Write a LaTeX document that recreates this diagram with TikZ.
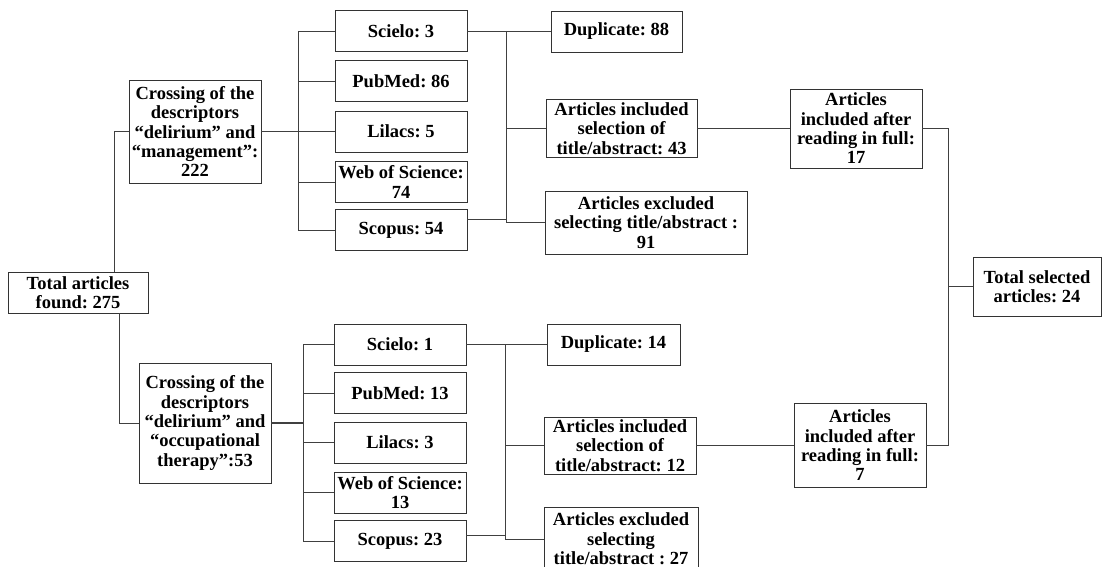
\documentclass[tikz,border=0pt]{standalone}
\usepackage{fontspec}
\setmainfont{Liberation Serif}
\frenchspacing
\begin{document}
\begin{tikzpicture}[x=1pt,y=-1pt,
	box/.style={draw=black!80, line width=0.8pt, align=center, inner sep=0.5pt,
		font=\bfseries\fontsize{18.5}{19.3}\selectfont},
	dbbox/.style={box, minimum width=132pt, minimum height=41pt},
	link/.style={draw=black!75, line width=0.8pt}]
	\useasboundingbox (0,0) rectangle (1105,567);
	% start and the two searches
	\node[box, minimum width=140pt, minimum height=41pt] (total) at (78,292.5) {Total articles\\found: 275};
	\node[box, minimum width=132pt, minimum height=103pt] (crossA) at (195,131.5) {Crossing of the\\descriptors\\“delirium” and\\“management”:\\222};
	\node[box, minimum width=132pt, minimum height=120pt] (crossB) at (205,423) {Crossing of the\\descriptors\\“delirium” and\\“occupational\\therapy”:53};
	% databases
	\foreach \name/\yy/\txt in {sciA/31/{Scielo: 3}, pubA/81/{PubMed: 86}, lilA/131.5/{Lilacs: 5}, wosA/182/{Web of Science:\\74}, scoA/230/{Scopus: 54}}
		\node[dbbox] (\name) at (401,\yy) {\txt};
	\foreach \name/\yy/\txt in {sciB/344.5/{Scielo: 1}, pubB/393/{PubMed: 13}, lilB/442.5/{Lilacs: 3}, wosB/492.5/{Web of Science:\\13}, scoB/541/{Scopus: 23}}
		\node[dbbox] (\name) at (400,\yy) {\txt};
	% screening
	\node[box, minimum width=131pt, minimum height=41pt] (dupA) at (616.5,31.5) {Duplicate: 88};
	\node[box, minimum width=151pt, minimum height=58pt] (incA) at (621.5,128.5) {Articles included\\selection of\\title/abstract: 43};
	\node[box, minimum width=202pt, minimum height=63pt] (excA) at (646,222.5) {Articles excluded\\selecting title/abstract :\\91};
	\node[box, minimum width=133pt, minimum height=41pt] (dupB) at (613.5,344.5) {Duplicate: 14};
	\node[box, minimum width=152pt, minimum height=57pt] (incB) at (620,445.5) {Articles included\\selection of\\title/abstract: 12};
	\node[box, minimum width=154pt, minimum height=64pt] (excB) at (621,539) {Articles excluded\\selecting\\title/abstract : 27};
	% full reading and result
	\node[box, minimum width=132pt, minimum height=79pt] (fullA) at (856,128.5) {Articles\\included after\\reading in full:\\17};
	\node[box, minimum width=132pt, minimum height=84pt] (fullB) at (860,445.5) {Articles\\included after\\reading in full:\\7};
	\node[box, minimum width=128pt, minimum height=59pt] (final) at (1037,286.5) {Total selected\\articles: 24};
	% bracket points
	\coordinate (brA) at (298,131.5);
	\coordinate (brB) at (506,128);
	\coordinate (brC) at (303,423);
	\coordinate (brD) at (505,445.5);
	\coordinate (brE) at (948,286.5);
	% connectors
	\draw[link] (crossA.west) -| ([xshift=36pt]total.north);
	\draw[link] (crossB.west) -| ([xshift=41pt]total.south);
	\draw[link, line width=1.2pt] (crossA.east) -- (brA);
	\draw[link, line width=1.2pt] (crossB.east) -- (brC);
	\draw[link] (sciA.west -| brA) -- (scoA.west -| brA);
	\draw[link] (sciB.west -| brC) -- (scoB.west -| brC);
	\foreach \db in {sciA,pubA,lilA,wosA,scoA}
		\draw[link] (\db.west) -- (\db.west -| brA);
	\foreach \db in {sciB,pubB,lilB,wosB,scoB}
		\draw[link] (\db.west) -- (\db.west -| brC);
	\draw[link] (sciA.east) -- (sciA.east -| brB);
	\draw[link] ([yshift=11pt]scoA.east) -- ([yshift=11pt]scoA.east -| brB);
	\draw[link] (sciB.east) -- (sciB.east -| brD);
	\draw[link] ([yshift=6pt]scoB.east) -- ([yshift=6pt]scoB.east -| brD);
	\draw[link] (sciA.east -| brB) -- (excA.west -| brB);
	\draw[link] (sciB.east -| brD) -- (excB.west -| brD);
	\foreach \st in {dupA,incA,excA}
		\draw[link] (\st.west) -- (\st.west -| brB);
	\foreach \st in {dupB,incB,excB}
		\draw[link] (\st.west) -- (\st.west -| brD);
	\draw[link] (incA.east) -- (fullA.west);
	\draw[link] (incB.east) -- (fullB.west);
	\draw[link] (fullA.east) -| (brE) -- (final.west);
	\draw[link] (fullB.east) -| (brE);
\end{tikzpicture}
\end{document}
